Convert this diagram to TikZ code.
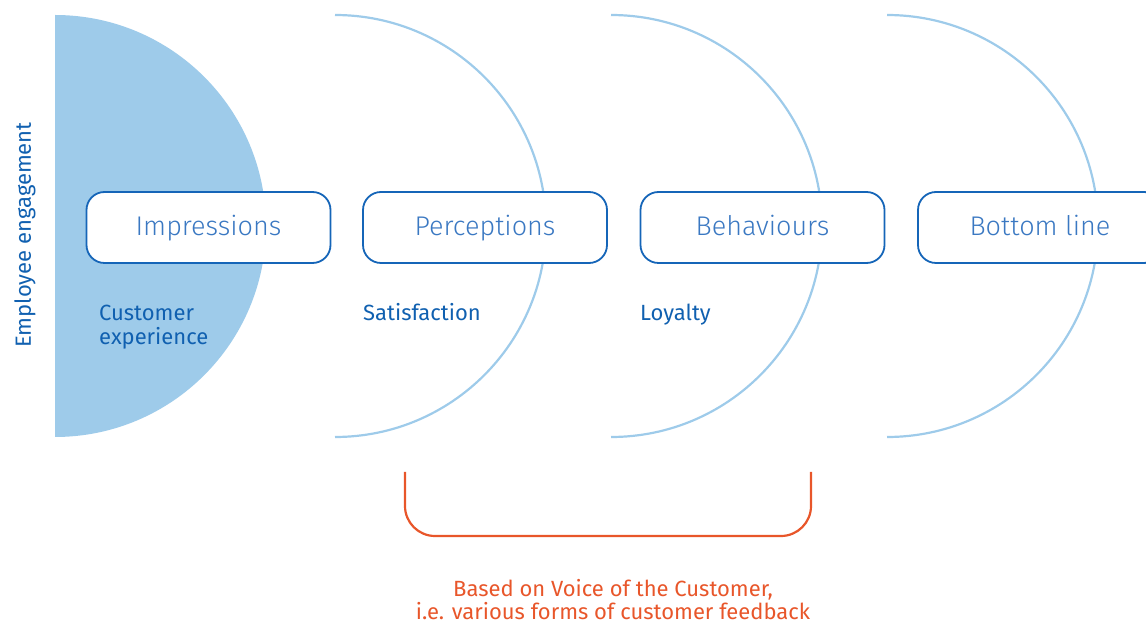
\documentclass[tikz,border=0pt]{standalone}
\usepackage{fontspec}
\setmainfont{Fira Sans}
\newfontfamily\lightfont{Fira Sans Light}
\usepackage{xcolor}
\usepackage{tikz}
\usetikzlibrary{positioning, calc}
\definecolor{arcblue}{HTML}{9ECBEA}
\definecolor{boxblue}{HTML}{1565B8}
\definecolor{txtblue}{HTML}{3A78C2}
\definecolor{lblblue}{HTML}{1060B0}
\definecolor{vocorange}{HTML}{E8562A}

\begin{document}
\begin{tikzpicture}[
  x=1pt, y=1pt,
  halfarc/.style={draw=arcblue, line width=2.2pt},
  stage/.style={draw=boxblue, line width=1.8pt, fill=white, rounded corners=18pt,
                minimum width=244pt, minimum height=71pt, text=txtblue,
                text height=20pt, text depth=3pt,
                font=\lightfont\fontsize{27}{31}\selectfont},
  lbl/.style={text=lblblue, font=\fontsize{22}{24}\selectfont, align=left, anchor=base west,
              inner sep=0pt},
]
\clip (0,0) rectangle (1146,624);
% half discs
\fill[arcblue] (55,609) arc[start angle=90, end angle=-90, radius=211] -- cycle;
\foreach \cx in {335,611,887}
  \draw[halfarc] (\cx,609) arc[start angle=90, end angle=-90, radius=211];
% stages
\node[stage] (impr) at (208.5,396.5) {Impressions};
\node[stage] (perc) at (485,396.5) {Perceptions};
\node[stage] (behav) at (762.5,396.5) {Behaviours};
\node[stage] (bottom) at (1040,396.5) {Bottom line};
% labels under stages
\node[lbl] (custexp) at (99,279) {Customer\\experience};
\node[lbl] (satis) at (363,303) {Satisfaction};
\node[lbl] (loyal) at (640,303) {Loyalty};
\node[text=lblblue, font=\fontsize{22}{24}\selectfont, rotate=90] (empeng) at (25,389) {Employee engagement};
% voice of the customer bracket
\coordinate (vocL) at (405,152);
\coordinate (vocR) at (811,152);
\draw[vocorange, line width=2.2pt, rounded corners=30pt]
  (vocL) -- ($(vocL)+(0,-64)$) -- ($(vocR)+(0,-64)$) -- (vocR);
\node[text=vocorange, font=\fontsize{22}{23}\selectfont, align=center] (voc) at (613,24)
  {Based on Voice of the Customer,\\i.e. various forms of customer feedback};
\end{tikzpicture}
\end{document}
